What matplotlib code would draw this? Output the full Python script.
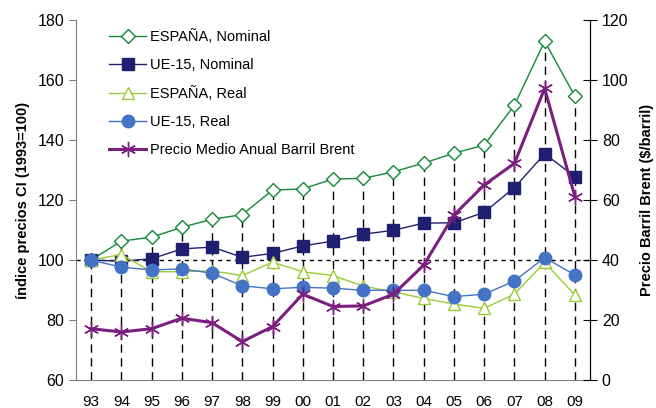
"""Indice de precios CI (1993=100) y precio medio anual del barril Brent."""

import matplotlib.pyplot as plt
from matplotlib.lines import Line2D
import numpy as np

years = ['93', '94', '95', '96', '97', '98', '99', '00', '01',
         '02', '03', '04', '05', '06', '07', '08', '09']

espana_nominal = [100, 106.3, 107.6, 110.9, 113.6, 115.1, 123.3, 123.7, 127.0,
                  127.2, 129.4, 132.3, 135.6, 138.3, 151.6, 172.9, 154.6]
ue15_nominal = [100, 99.6, 100.4, 103.7, 104.3, 100.9, 102.2, 104.7, 106.3,
                108.6, 109.9, 112.3, 112.4, 115.9, 124.1, 135.4, 127.8]
espana_real = [100, 101.8, 96.1, 96.1, 96.4, 94.8, 99.3, 96.1, 94.8,
               91.3, 89.4, 87.2, 85.3, 83.9, 88.6, 99.2, 88.3]
ue15_real = [100, 97.6, 96.7, 97.0, 95.6, 91.4, 90.4, 90.9, 90.6,
             89.9, 89.9, 89.9, 87.8, 88.6, 93.0, 100.8, 95.0]
brent = [17.1, 16.0, 17.1, 20.6, 19.1, 12.8, 17.8, 28.6, 24.5,
         24.7, 28.6, 38.3, 55.0, 65.0, 72.2, 97.2, 61.1]

plt.rcParams['font.family'] = ['Liberation Sans', 'DejaVu Sans']
plt.rcParams['font.size'] = 10.5

fig = plt.figure(figsize=(6.56, 4.08), dpi=100)
ax = fig.add_axes([76 / 656, 28 / 408, 514 / 656, 360 / 408])
ax2 = ax.twinx()

x = np.arange(len(years))

# drop lines from the highest point of each year to the axis
top = np.maximum.reduce([espana_nominal, ue15_nominal, espana_real, ue15_real,
                         np.array(brent) + 60])
ax.vlines(x, 60, top, colors='black', linestyles=(0, (6, 4)), linewidth=1, zorder=1)
ax.axhline(100, color='black', linestyle=(0, (3, 3)), linewidth=1, zorder=1)

ax.plot(x, espana_nominal, color='#12883A', lw=1, marker='D', markersize=7,
        markerfacecolor='white', markeredgecolor='#12883A', zorder=3)
ax.plot(x, ue15_nominal, color='#1F1F70', lw=1, marker='s', markersize=9,
        markerfacecolor='#1F1F70', markeredgecolor='#1F1F70', zorder=3)
ax.plot(x, espana_real, color='#99CC33', lw=1, marker='^', markersize=9,
        markerfacecolor='white', markeredgecolor='#99CC33', zorder=3)
ax.plot(x, ue15_real, color='#4472C4', lw=1, marker='o', markersize=9,
        markerfacecolor='#4472C4', markeredgecolor='#4472C4', zorder=3)
ax2.plot(x, brent, color='#7B1F7F', lw=2.2, marker=(6, 2, 0), markersize=11,
         markeredgecolor='#7B1F7F', markeredgewidth=1, zorder=3)

ax.set_xlim(-0.5, len(years) - 0.5)
ax.set_ylim(60, 180)
ax.set_yticks(range(60, 181, 20))
ax2.set_ylim(0, 120)
ax2.set_yticks(range(0, 121, 20))
ax.set_xticks(x)
ax.set_xticklabels(years)

ax.tick_params(axis='x', length=0, pad=11, labelsize=11)
ax.tick_params(axis='y', direction='out', length=5, color='#808080', labelsize=11.5)
ax2.tick_params(axis='y', direction='inout', length=10, color='black', labelsize=11.5)

for a in (ax, ax2):
    a.spines['top'].set_visible(False)
ax.spines['left'].set_color('#808080')
ax.spines['bottom'].set_color('#808080')
ax2.spines['left'].set_visible(False)
ax2.spines['bottom'].set_visible(False)
ax2.spines['right'].set_color('black')

ax.set_ylabel('índice precios CI (1993=100)', fontweight='bold', fontsize=10.5, labelpad=5)
ax2.set_ylabel('Precio Barril Brent ($/barril)', fontweight='bold', fontsize=10.5, labelpad=8)

handles = [
    Line2D([], [], color='#12883A', lw=1, marker='D', markersize=7,
           markerfacecolor='white', markeredgecolor='#12883A'),
    Line2D([], [], color='#1F1F70', lw=1, marker='s', markersize=9,
           markerfacecolor='#1F1F70'),
    Line2D([], [], color='#99CC33', lw=1, marker='^', markersize=9,
           markerfacecolor='white', markeredgecolor='#99CC33'),
    Line2D([], [], color='#4472C4', lw=1, marker='o', markersize=9,
           markerfacecolor='#4472C4'),
    Line2D([], [], color='#7B1F7F', lw=2.2, marker=(6, 2, 0), markersize=11),
]
labels = ['ESPAÑA, Nominal', 'UE-15, Nominal', 'ESPAÑA, Real', 'UE-15, Real',
          'Precio Medio Anual Barril Brent']
ax2.legend(handles, labels, loc='upper left', bbox_to_anchor=(102 / 656, 1 - 22 / 408),
           bbox_transform=fig.transFigure, frameon=False, fontsize=10.5,
           handlelength=2.5, handletextpad=0.3, labelspacing=0.95, borderpad=0)

fig.savefig('out.png', dpi=100, facecolor='white')
